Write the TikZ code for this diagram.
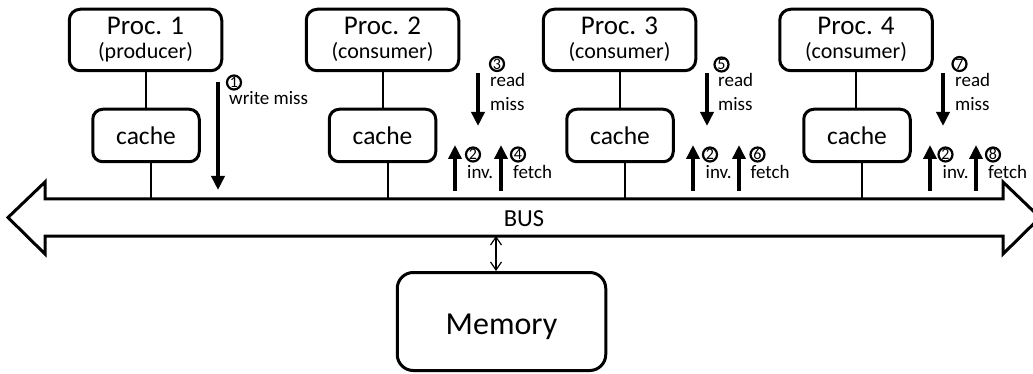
\documentclass[tikz,border=0pt]{standalone}
\usepackage{fontspec}
\setmainfont{Carlito}
\usetikzlibrary{arrows.meta}
\begin{document}
\begin{tikzpicture}[x=1pt,y=-1pt,
  procbox/.style={draw, line width=3pt, rounded corners=11pt, minimum width=152.5pt, minimum height=61.5pt, inner sep=0pt},
  cachebox/.style={draw, line width=3pt, rounded corners=10pt, minimum width=106.5pt, minimum height=52.5pt, inner sep=0pt},
  membox/.style={draw, line width=3pt, rounded corners=16pt, minimum width=208.5pt, minimum height=98pt, inner sep=0pt},
  link/.style={line width=2pt},
  bigtxt/.style={font=\fontsize{27}{30}\selectfont, inner sep=0pt, anchor=base},
  subtxt/.style={font=\fontsize{22}{24}\selectfont, inner sep=0pt, anchor=base},
  cachetxt/.style={font=\fontsize{25.5}{28}\selectfont, inner sep=0pt, anchor=base},
  lbl/.style={font=\fontsize{19}{21}\selectfont, inner sep=0pt, anchor=base west},
  num/.style={circle, draw, line width=2.2pt, minimum size=14pt, inner sep=0pt, font=\fontsize{16}{16}\selectfont},
  flow/.style={line width=4.5pt, -{Triangle[length=14pt,width=13pt]}}
]
\useasboundingbox (0,0) rectangle (1033,374);
\clip (0,0) rectangle (1033,374);

% bus
\draw[line width=3pt, line join=miter]
  (8,217.5) -- (45,182) -- (45,199) -- (1003,199) -- (1003,182) -- (1040,217.5)
  -- (1003,254) -- (1003,236) -- (45,236) -- (45,254) -- cycle;
\coordinate (busN) at (0,199);
\coordinate (busS) at (0,236);
\node[font=\fontsize{24.5}{26}\selectfont, inner sep=0pt, anchor=base] (bus) at (524,226.5) {BUS};

% processors
\node[procbox] (p1) at (145.5,40) {};
\node[procbox] (p2) at (382.5,40) {};
\node[procbox] (p3) at (619.5,40) {};
\node[procbox] (p4) at (856,40) {};
\node[bigtxt] (p1a) at (145.5,35) {Proc. 1};
\node[bigtxt] (p2a) at (382.5,35) {Proc. 2};
\node[bigtxt] (p3a) at (619.5,35) {Proc. 3};
\node[bigtxt] (p4a) at (856,35) {Proc. 4};
\node[subtxt] (p1b) at (145.5,59) {(producer)};
\node[subtxt] (p2b) at (382.5,59) {(consumer)};
\node[subtxt] (p3b) at (619.5,59) {(consumer)};
\node[subtxt] (p4b) at (856,59) {(consumer)};

% caches
\node[cachebox] (c1) at (146,135.5) {};
\node[cachebox] (c2) at (382.5,135.5) {};
\node[cachebox] (c3) at (620,135.5) {};
\node[cachebox] (c4) at (857,135.5) {};
\node[cachetxt] (c1t) at (146,145) {cache};
\node[cachetxt] (c2t) at (382.5,145) {cache};
\node[cachetxt] (c3t) at (620,145) {cache};
\node[cachetxt] (c4t) at (857,145) {cache};

% links
\draw[link] (p1.south) -- (p1.south |- c1.north);
\draw[link] (p2.south) -- (p2.south |- c2.north);
\draw[link] (p3.south) -- (p3.south |- c3.north);
\draw[link] (p4.south) -- (p4.south |- c4.north);
\draw[link] ([xshift=4.5pt]c1.south) -- ([xshift=4.5pt]c1.south |- busN);
\draw[link] ([xshift=5.5pt]c2.south) -- ([xshift=5.5pt]c2.south |- busN);
\draw[link] ([xshift=4.5pt]c3.south) -- ([xshift=4.5pt]c3.south |- busN);
\draw[link] ([xshift=4.5pt]c4.south) -- ([xshift=4.5pt]c4.south |- busN);

% memory
\node[membox] (mem) at (501.5,321.5) {};
\node[font=\fontsize{32}{34}\selectfont, inner sep=0pt, anchor=base] (memt) at (501.5,334) {Memory};
\draw[line width=1.2pt, {Straight Barb[length=8pt,width=11pt]}-{Straight Barb[length=8pt,width=11pt]}]
  ([xshift=-5.5pt]mem.north) -- ([xshift=-5.5pt]mem.north |- busS);

% processor 1 : write miss
\coordinate (w1s) at (218,82); \coordinate (w1e) at (218,190);
\draw[flow] (w1s) -- (w1e);
\node[num] (n1) at (234,82.5) {1};
\node[lbl] (t1) at (229,105) {write miss};

% processor 2
\coordinate (r2s) at (478,73); \coordinate (r2e) at (478,126);
\draw[flow] (r2s) -- (r2e);
\node[num] (n3) at (497,64) {3};
\node[lbl] (t3a) at (490,87) {read};
\node[lbl] (t3b) at (490,110.5) {miss};
\coordinate (i2s) at (455,191); \coordinate (i2e) at (455,145);
\draw[flow] (i2s) -- (i2e);
\node[num] (n2a) at (473,154.5) {2};
\node[lbl] (t2a) at (467,179) {inv.};
\coordinate (f2s) at (501,191); \coordinate (f2e) at (501,145);
\draw[flow] (f2s) -- (f2e);
\node[num] (n4) at (518,154.5) {4};
\node[lbl] (t4) at (513,179) {fetch};

% processor 3
\coordinate (r3s) at (707,73); \coordinate (r3e) at (707,126);
\draw[flow] (r3s) -- (r3e);
\node[num] (n5) at (721.5,64.5) {5};
\node[lbl] (t5a) at (718,87) {read};
\node[lbl] (t5b) at (718,110.5) {miss};
\coordinate (i3s) at (693,191); \coordinate (i3e) at (693,145);
\draw[flow] (i3s) -- (i3e);
\node[num] (n2b) at (710,154.5) {2};
\node[lbl] (t2b) at (705.5,179) {inv.};
\coordinate (f3s) at (739,191); \coordinate (f3e) at (739,145);
\draw[flow] (f3s) -- (f3e);
\node[num] (n6) at (757.5,154.5) {6};
\node[lbl] (t6) at (750.5,179) {fetch};

% processor 4
\coordinate (r4s) at (943,73); \coordinate (r4e) at (943,126);
\draw[flow] (r4s) -- (r4e);
\node[num] (n7) at (959.5,64) {7};
\node[lbl] (t7a) at (955,87) {read};
\node[lbl] (t7b) at (955,110.5) {miss};
\coordinate (i4s) at (930,191); \coordinate (i4e) at (930,145);
\draw[flow] (i4s) -- (i4e);
\node[num] (n2c) at (945.5,154.5) {2};
\node[lbl] (t2c) at (942.5,179) {inv.};
\coordinate (f4s) at (976,191); \coordinate (f4e) at (976,145);
\draw[flow] (f4s) -- (f4e);
\node[num] (n8) at (993,154.5) {8};
\node[lbl] (t8) at (988,179) {fetch};
\end{tikzpicture}
\end{document}
